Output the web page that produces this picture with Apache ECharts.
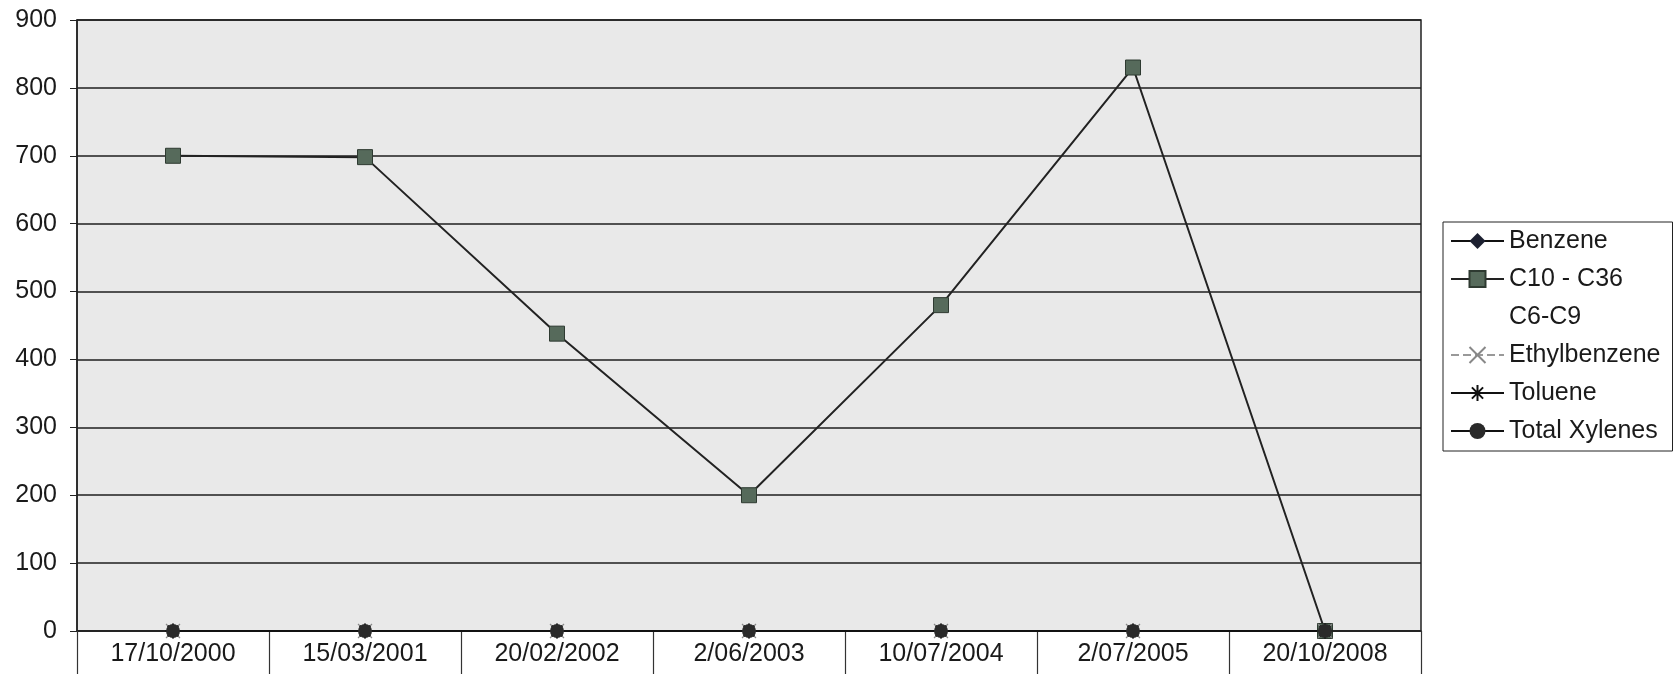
<!DOCTYPE html>
<html>
<head>
<meta charset="utf-8">
<script src="https://cdn.jsdelivr.net/npm/echarts@6/dist/echarts.min.js"></script>
<style>
html,body{margin:0;padding:0;background:#fff;}
#c{width:1675px;height:674px;}
</style>
</head>
<body>
<div id="c"></div>
<script>
const categories = ['17/10/2000','15/03/2001','20/02/2002','2/06/2003','10/07/2004','2/07/2005','20/10/2008'];
const benzene = [0,0,0,0,0,0,0];
const c10c36 = [700,698,438,200,480,830,0];
const c6c9 = [null,null,null,null,null,null,null];
const ethylbenzene = [0,0,0,0,0,0,0];
const toluene = [0,0,0,0,0,0,0];
const totalXylenes = [0,0,0,0,0,0,0];
const yTicks = {min:0, max:900, interval:100};

const FONT = 'Liberation Sans, Arial, sans-serif';
const chart = echarts.init(document.getElementById('c'), null, {renderer:'canvas'});
const xPath = 'path://M0,0L10,10M10,0L0,10';
const starPath = 'path://M5,0L5,10M0,5L10,5M1.5,1.5L8.5,8.5M8.5,1.5L1.5,8.5';

chart.setOption({
  animation:false,
  backgroundColor:'#ffffff',
  grid:{left:77,right:254,top:20,bottom:43,show:true,backgroundColor:'#e9e9e9',borderColor:'#222',borderWidth:1.5},
  legend:{
    orient:'vertical',left:1443,top:222,
    backgroundColor:'#fff',borderColor:'#222',borderWidth:1,
    padding:[5,12,6,7],
    itemWidth:53,itemHeight:20,itemGap:10,
    textStyle:{fontFamily:FONT,fontSize:25,color:'#1a1a1a',lineHeight:28},
    data:['Benzene','C10 - C36',{name:'C6-C9',icon:'none'},'Ethylbenzene','Toluene','Total Xylenes']
  },
  xAxis:{
    type:'category',data:categories,boundaryGap:true,
    axisLine:{show:true,lineStyle:{color:'#222',width:1.5}},
    axisTick:{show:true,interval:0,length:43,lineStyle:{color:'#333',width:1.2}},
    axisLabel:{interval:0,margin:11,fontFamily:FONT,fontSize:25,color:'#1a1a1a'},
    splitLine:{show:false}
  },
  yAxis:{
    type:'value',min:yTicks.min,max:yTicks.max,interval:yTicks.interval,
    axisLine:{show:true,lineStyle:{color:'#222',width:1.5}},
    axisTick:{show:true,length:7,lineStyle:{color:'#222'}},
    axisLabel:{margin:20,fontFamily:FONT,fontSize:25,color:'#1a1a1a'},
    splitLine:{show:true,lineStyle:{color:'#1e1e1e',width:1.5}}
  },
  series:[
    {name:'Benzene',type:'line',data:benzene,symbol:'diamond',symbolSize:14,
     lineStyle:{color:'#111',width:1.8},itemStyle:{color:'#1c2030'}},
    {name:'C10 - C36',type:'line',data:c10c36,symbol:'rect',symbolSize:15,
     lineStyle:{color:'#222',width:2},itemStyle:{color:'#566a5b',borderColor:'#2e3a31',borderWidth:1}},
    {name:'C6-C9',type:'line',data:c6c9,symbol:'none',lineStyle:{width:0,opacity:0},itemStyle:{color:'#fff'}},
    {name:'Ethylbenzene',type:'line',data:ethylbenzene,symbol:xPath,symbolSize:14,
     lineStyle:{color:'#999',width:1.8,type:'dashed'},itemStyle:{color:'#999',borderColor:'#888',borderWidth:1.2}},
    {name:'Toluene',type:'line',data:toluene,symbol:starPath,symbolSize:15,
     lineStyle:{color:'#111',width:1.8},itemStyle:{color:'#111',borderColor:'#111',borderWidth:2}},
    {name:'Total Xylenes',type:'line',data:totalXylenes,symbol:'circle',symbolSize:14,
     lineStyle:{color:'#111',width:1.8},itemStyle:{color:'#2a2a2a'}}
  ]
});
</script>
</body>
</html>
